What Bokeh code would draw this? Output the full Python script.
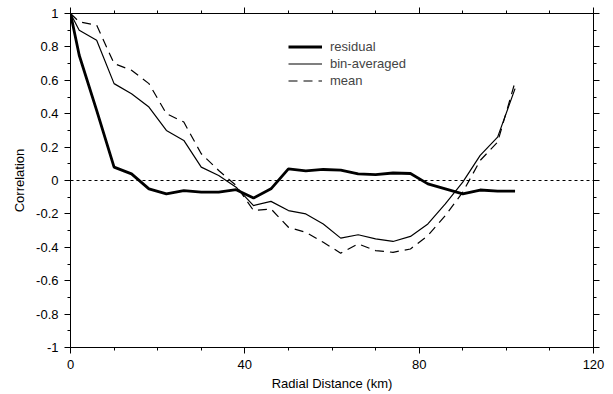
from bokeh.plotting import figure
from bokeh.models import (FixedTicker, LinearAxis, Span, Legend, LegendItem, Range1d)
from bokeh.embed import file_html
from bokeh.resources import INLINE

# ---- data ----
distance_km = [0, 2, 6, 10, 14, 18, 22, 26, 30, 34, 38, 42, 46, 50, 54, 58,
               62, 66, 70, 74, 78, 82, 86, 90, 94, 98, 102]
residual = [1.0, 0.75, 0.42, 0.08, 0.04, -0.05, -0.08, -0.06, -0.07, -0.07, -0.055,
            -0.105, -0.05, 0.07, 0.058, 0.066, 0.062, 0.04, 0.035, 0.045, 0.042,
            -0.02, -0.05, -0.08, -0.057, -0.064, -0.064]
bin_averaged = [1.0, 0.9, 0.84, 0.58, 0.52, 0.44, 0.30, 0.24, 0.08, 0.03, -0.04,
                -0.15, -0.125, -0.18, -0.2, -0.26, -0.345, -0.325, -0.35, -0.365,
                -0.335, -0.26, -0.14, -0.01, 0.15, 0.26, 0.55]
mean = [1.0, 0.95, 0.93, 0.70, 0.66, 0.58, 0.40, 0.35, 0.16, 0.06, -0.03, -0.18,
        -0.17, -0.28, -0.31, -0.37, -0.435, -0.38, -0.42, -0.43, -0.41, -0.33,
        -0.21, -0.07, 0.12, 0.23, 0.59]

x_major = [0, 40, 80, 120]
x_minor = [10, 20, 30, 50, 60, 70, 90, 100, 110]
y_major = [-1, -0.8, -0.6, -0.4, -0.2, 0, 0.2, 0.4, 0.6, 0.8, 1]
y_labels = ["-1", "-0.8", "-0.6", "-0.4", "-0.2", "0", "0.2", "0.4", "0.6", "0.8", "1"]
y_minor = [-0.9, -0.7, -0.5, -0.3, -0.1, 0.1, 0.3, 0.5, 0.7, 0.9]

FONT = "Liberation Sans"

p = figure(width=613, height=394, output_backend="svg", toolbar_location=None,
           x_range=Range1d(0, 120), y_range=Range1d(-1, 1),
           x_axis_label="Radial Distance (km)", y_axis_label="Correlation",
           min_border_left=70, min_border_right=20, min_border_top=13,
           min_border_bottom=47)
p.background_fill_color = "white"
p.border_fill_color = "white"
p.outline_line_color = "black"
p.grid.visible = False

xt = FixedTicker(ticks=x_major, minor_ticks=x_minor)
yt = FixedTicker(ticks=y_major, minor_ticks=y_minor)

def style(ax, labels=True):
    ax.axis_line_color = "black"
    ax.major_tick_line_color = "black"
    ax.minor_tick_line_color = "black"
    ax.major_tick_in = 0
    ax.major_tick_out = 6
    ax.minor_tick_in = 0
    ax.minor_tick_out = 3
    ax.major_label_text_font = FONT
    ax.axis_label_text_font = FONT
    ax.axis_label_text_font_style = "normal"
    ax.axis_label_text_color = "black"
    ax.major_label_text_font_size = "13px"
    ax.axis_label_text_font_size = "13px"
    if labels:
        ax.major_label_text_color = "black"
    else:
        ax.major_label_text_color = None
        ax.major_label_standoff = 0

p.xaxis.ticker = xt
p.yaxis.ticker = yt
p.yaxis.major_label_overrides = {v: s for v, s in zip(y_major, y_labels)}
style(p.xaxis[0])
style(p.yaxis[0])
p.xaxis.major_label_standoff = 6
p.xaxis.axis_label_standoff = 4
p.yaxis.major_label_standoff = 6
p.yaxis.axis_label_standoff = 6

top = LinearAxis(ticker=xt)
style(top, labels=False)
p.add_layout(top, "above")
right = LinearAxis(ticker=yt)
style(right, labels=False)
p.add_layout(right, "right")

p.add_layout(Span(location=0, dimension="width", line_color="black",
                  line_width=1, line_dash="3 3"))

r_res = p.line(distance_km, residual, line_color="black", line_width=2.8)
r_bin = p.line(distance_km, bin_averaged, line_color="black", line_width=1.2)
r_mean = p.line(distance_km, mean, line_color="black", line_width=1.2,
                line_dash="9 6")

legend = Legend(items=[LegendItem(label="residual", renderers=[r_res]),
                       LegendItem(label="bin-averaged", renderers=[r_bin]),
                       LegendItem(label="mean", renderers=[r_mean])],
                location=(218, 258), glyph_width=34, glyph_height=17,
                label_height=17, spacing=0, padding=0, margin=0,
                label_standoff=8, label_text_font=FONT,
                label_text_font_size="13px", border_line_color=None,
                background_fill_alpha=0)
p.add_layout(legend, "center")

open("out.html", "w").write(file_html(p, INLINE))
